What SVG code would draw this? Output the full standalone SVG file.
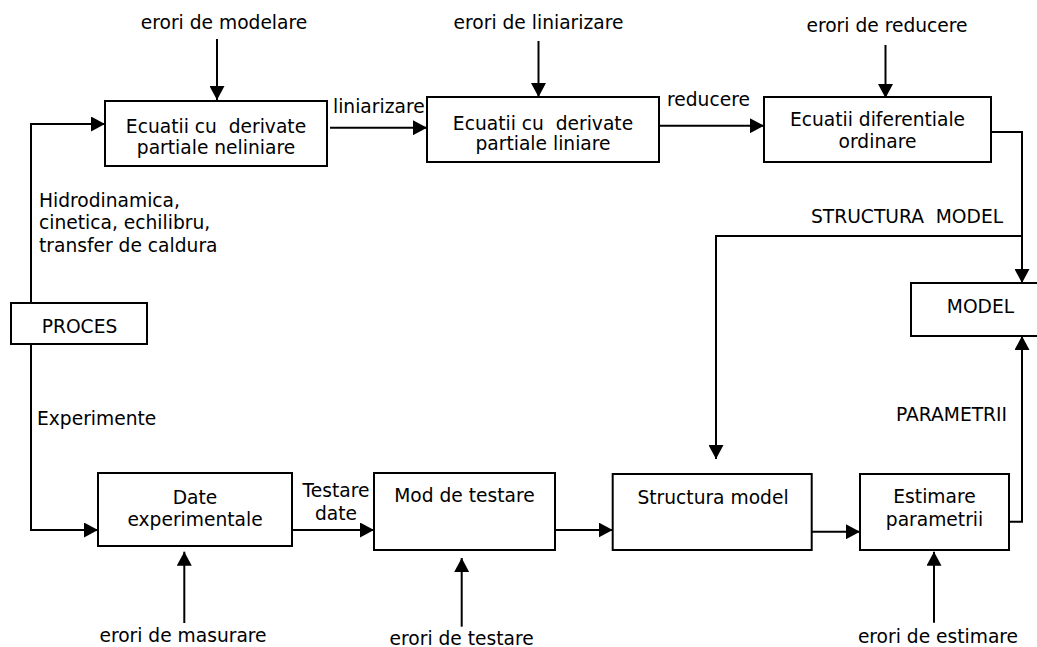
<svg xmlns="http://www.w3.org/2000/svg" width="1037" height="647" viewBox="0 0 1037 647">
<defs>
<marker id="ah" markerUnits="userSpaceOnUse" markerWidth="15" markerHeight="15" refX="14" refY="7.5" orient="auto" viewBox="0 0 15 15">
<path d="M0,0 L14,7.5 L0,15 z" fill="#000"/>
</marker>
<style>
.b{fill:#fff;stroke:#000;stroke-width:2}
.c{fill:none;stroke:#000;stroke-width:2}
.a{marker-end:url(#ah)}
text{font-family:"DejaVu Sans","Verdana",sans-serif;font-size:18.67px;fill:#000}
.m{text-anchor:middle}
</style>
</defs>
<rect width="1037" height="647" fill="#fff"/>
<g id="connectors">
<path class="c a" d="M217,39 V100"/>
<path class="c a" d="M538.5,41 V97"/>
<path class="c a" d="M885.5,45 V98"/>
<path class="c a" d="M31,303 V124 H105"/>
<path class="c a" d="M330,127.7 H427"/>
<path class="c a" d="M659,125.7 H764"/>
<path class="c a" d="M991,132 H1022 V283"/>
<path class="c a" d="M1022,236 H716 V459"/>
<path class="c a" d="M1009,521.7 H1022 V336"/>
<path class="c a" d="M31,344 V530 H98"/>
<path class="c a" d="M292,530 H374"/>
<path class="c a" d="M555,530 H612.7"/>
<path class="c a" d="M811.7,531.7 H860"/>
<path class="c a" d="M184.3,623 V551.7"/>
<path class="c a" d="M461.7,626.7 V558"/>
<path class="c a" d="M934,622.7 V551.7"/>
</g>
<g id="labels">
<text class="m" x="224" y="29">erori de modelare</text>
<text class="m" x="538.5" y="29">erori de liniarizare</text>
<text class="m" x="887" y="31.5">erori de reducere</text>
<text x="333" y="113">liniarizare</text>
<text x="667" y="106">reducere</text>
<text x="39" y="206.5">Hidrodinamica,</text>
<text x="39" y="229">cinetica, echilibru,</text>
<text x="39" y="251.7">transfer de caldura</text>
<text x="37" y="425">Experimente</text>
<text x="811" y="223" xml:space="preserve">STRUCTURA  MODEL</text>
<text x="896" y="421">PARAMETRII</text>
<text class="m" x="336" y="496.7">Testare</text>
<text class="m" x="336" y="520">date</text>
<text class="m" x="183" y="642">erori de masurare</text>
<text class="m" x="461.7" y="645">erori de testare</text>
<text class="m" x="938" y="643">erori de estimare</text>
</g>
<g id="n-neliniare">
<rect class="b" x="105" y="101" width="222" height="65"/>
<text class="m" x="216" y="133.3" xml:space="preserve">Ecuatii cu  derivate</text>
<text class="m" x="216" y="154">partiale neliniare</text>
</g>
<g id="n-liniare">
<rect class="b" x="427" y="97" width="232" height="65"/>
<text class="m" x="543" y="129.5" xml:space="preserve">Ecuatii cu  derivate</text>
<text class="m" x="543" y="150">partiale liniare</text>
</g>
<g id="n-ordinare">
<rect class="b" x="764" y="97" width="227" height="65"/>
<text class="m" x="877.5" y="126">Ecuatii diferentiale</text>
<text class="m" x="877.5" y="148.3">ordinare</text>
</g>
<g id="n-proces">
<rect class="b" x="11" y="303" width="136" height="41"/>
<text class="m" x="79.5" y="332.7">PROCES</text>
</g>
<g id="n-model">
<rect class="b" x="911" y="283" width="140" height="53"/>
<text class="m" x="980.5" y="313">MODEL</text>
</g>
<g id="n-date">
<rect class="b" x="98" y="473" width="194" height="73"/>
<text class="m" x="195" y="504">Date</text>
<text class="m" x="195" y="526">experimentale</text>
</g>
<g id="n-testare">
<rect class="b" x="374" y="473" width="181" height="77"/>
<text class="m" x="464.5" y="501.7">Mod de testare</text>
</g>
<g id="n-structura">
<rect class="b" x="612.7" y="474" width="199" height="76"/>
<text class="m" x="713" y="504">Structura model</text>
</g>
<g id="n-estimare">
<rect class="b" x="860" y="474" width="149" height="76"/>
<text class="m" x="934.5" y="503.3">Estimare</text>
<text class="m" x="934.5" y="526">parametrii</text>
</g>
</svg>
